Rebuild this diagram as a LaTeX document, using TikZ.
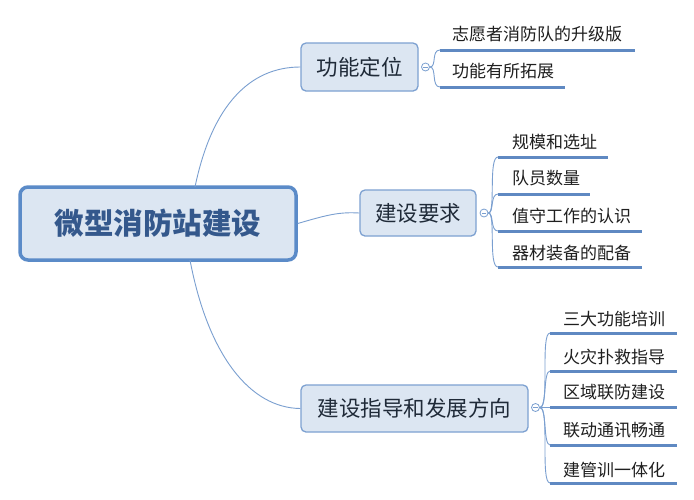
\documentclass[tikz,border=0pt]{standalone}
\usepackage{fontspec}
\newfontfamily\cjk{Noto Sans CJK SC}
\definecolor{rootfill}{HTML}{DCE6F2}
\definecolor{rootdraw}{HTML}{5B8BC8}
\definecolor{roottext}{HTML}{34588C}
\definecolor{brdraw}{HTML}{7DA1D1}
\definecolor{brtext}{HTML}{1F2A38}
\definecolor{conncol}{HTML}{7A9FD0}
\definecolor{ulcol}{HTML}{5F89C2}
\begin{document}
\begin{tikzpicture}[x=1pt,y=-1pt,
  rootbox/.style={draw=rootdraw,line width=3.5pt,fill=rootfill,rounded corners=8pt,
     minimum width=276pt,minimum height=73pt,inner sep=0pt,
     font=\cjk\fontsize{29.5}{30}\selectfont\bfseries,text=roottext},
  brbox/.style={draw=brdraw,line width=1.3pt,fill=rootfill,rounded corners=5pt,
     inner sep=0pt,font=\cjk\fontsize{21.5}{22}\selectfont,text=brtext},
  leaf/.style={anchor=base west,inner sep=0pt,font=\cjk\fontsize{17}{18}\selectfont,text=black!88},
  conn/.style={draw=conncol,line width=0.9pt},
  uline/.style={draw=ulcol,line width=3pt},
  knob/.style={circle,draw=conncol,line width=0.8pt,fill=white,minimum size=8pt,inner sep=0pt}
]
\useasboundingbox (0,0) rectangle (694,499);
\fill[white] (0,0) rectangle (694,499);

% root
\node[rootbox] (root) at (158,223.5) {微型消防站建设};
% branches
\node[brbox,minimum width=117pt,minimum height=48pt] (b1) at (359.5,67) {功能定位};
\node[brbox,minimum width=116pt,minimum height=46pt] (b2) at (418,213) {建设要求};
\node[brbox,minimum width=227pt,minimum height=47pt] (b3) at (414.5,408.5) {建设指导和发展方向};

% root connectors
\coordinate (rt) at (195,187);
\coordinate (rb) at (190,260);
\draw[conn] (rt) .. controls (212,105) and (250,67) .. (b1.west);
\draw[conn] (root.east) .. controls (330,214) and (340,212) .. (b2.west);
\draw[conn] (rb) .. controls (208,355) and (250,408) .. (b3.west);

% knobs
\node[knob] (k1) at (425.5,67) {};
\node[knob] (k2) at (484,213) {};
\node[knob] (k3) at (535.5,407.5) {};
\foreach \k in {k1,k2,k3}{\draw[conncol,line width=0.8pt] ([xshift=-2.2pt]\k.center) -- ([xshift=2.2pt]\k.center);}

% group 1 underline coordinates
\coordinate (u1a) at (440,50);  \coordinate (u1b) at (635,50);
\coordinate (u2a) at (440,87);  \coordinate (u2b) at (565,87);
\node[leaf] (l1) at (452,40.5) {志愿者消防队的升级版};
\node[leaf] (l2) at (452,77.5) {功能有所拓展};
\draw[uline] (u1a) -- (u1b);
\draw[uline] (u2a) -- (u2b);
\draw[conn] (k1.east) .. controls (437,67) and (431,50) .. (u1a);
\draw[conn] (k1.east) .. controls (437,67) and (431,87) .. (u2a);

% group 2
\coordinate (v1a) at (498,157); \coordinate (v1b) at (608,157);
\coordinate (v2a) at (498,194); \coordinate (v2b) at (590,194);
\coordinate (v3a) at (498,231); \coordinate (v3b) at (642,231);
\coordinate (v4a) at (498,267); \coordinate (v4b) at (642,267);
\node[leaf] (m1) at (512,148.5) {规模和选址};
\node[leaf] (m2) at (512,184.5) {队员数量};
\node[leaf] (m3) at (512,222) {值守工作的认识};
\node[leaf] (m4) at (512,259) {器材装备的配备};
\foreach \a/\b in {v1a/v1b,v2a/v2b,v3a/v3b,v4a/v4b}{\draw[uline] (\a) -- (\b);}
\draw[conn] (k2.east) .. controls (496,213) and (488,157) .. (v1a);
\draw[conn] (k2.east) .. controls (494,213) and (490,194) .. (v2a);
\draw[conn] (k2.east) .. controls (494,213) and (490,231) .. (v3a);
\draw[conn] (k2.east) .. controls (496,213) and (488,267) .. (v4a);

% group 3
\coordinate (w1a) at (550,333); \coordinate (w1b) at (677,333);
\coordinate (w2a) at (550,371); \coordinate (w2b) at (677,371);
\coordinate (w3a) at (550,407.5); \coordinate (w3b) at (677,407.5);
\coordinate (w4a) at (550,445); \coordinate (w4b) at (677,445);
\coordinate (w5a) at (550,483); \coordinate (w5b) at (677,483);
\node[leaf] (n1) at (563,325) {三大功能培训};
\node[leaf] (n2) at (563,363) {火灾扑救指导};
\node[leaf] (n3) at (563,398.5) {区域联防建设};
\node[leaf] (n4) at (563,436.5) {联动通讯畅通};
\node[leaf] (n5) at (563,476) {建管训一体化};
\foreach \a/\b in {w1a/w1b,w2a/w2b,w3a/w3b,w4a/w4b,w5a/w5b}{\draw[uline] (\a) -- (\b);}
\draw[conn] (k3.east) .. controls (550,407.5) and (540,333) .. (w1a);
\draw[conn] (k3.east) .. controls (547,407.5) and (543,371) .. (w2a);
\draw[conn] (k3.east) -- (w3a);
\draw[conn] (k3.east) .. controls (547,407.5) and (543,445) .. (w4a);
\draw[conn] (k3.east) .. controls (550,407.5) and (540,483) .. (w5a);
\end{tikzpicture}
\end{document}
